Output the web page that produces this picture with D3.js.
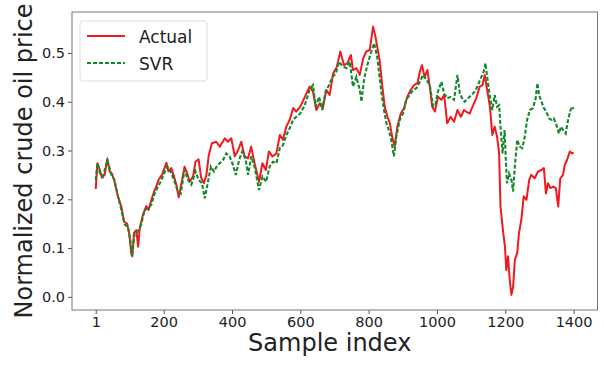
<!DOCTYPE html>
<html>
<head>
<meta charset="utf-8">
<script src="https://cdn.jsdelivr.net/npm/d3@7"></script>
<style>
body { margin: 0; background: #fff; }
text { font-family: "DejaVu Sans", sans-serif; fill: #222; }
</style>
</head>
<body>
<div id="chart"></div>
<script>
// data
const actualIdx = [1,6,13,19,27,35,42,49,56,66,76,84,93,99,105,108,113,120,125,130,139,149,156,164,172,178,185,195,208,214,222,230,237,244,252,261,269,276,286,293,302,310,318,325,332,341,354,364,379,388,398,408,418,427,437,447,456,466,479,489,499,508,518,530,540,549,559,569,579,588,600,613,627,637,647,657,666,676,686,696,707,717,728,738,748,754,764,774,784,793,803,813,820,825,832,839,847,855,862,869,876,884,894,904,913,923,933,943,950,956,964,972,979,986,994,1003,1013,1021,1030,1040,1050,1060,1070,1079,1089,1096,1106,1115,1125,1133,1140,1147,1155,1162,1169,1176,1182,1186,1192,1199,1203,1208,1213,1218,1223,1228,1235,1240,1247,1254,1262,1270,1276,1286,1296,1306,1313,1319,1325,1332,1340,1348,1355,1361,1369,1374,1381,1389,1396,1400]
const actualVal = [0.221,0.274,0.260,0.244,0.250,0.282,0.257,0.252,0.236,0.206,0.185,0.154,0.150,0.130,0.090,0.083,0.131,0.137,0.103,0.141,0.168,0.186,0.178,0.199,0.216,0.226,0.240,0.250,0.275,0.257,0.264,0.247,0.230,0.204,0.233,0.267,0.253,0.236,0.247,0.277,0.282,0.243,0.233,0.250,0.291,0.315,0.318,0.308,0.325,0.318,0.325,0.288,0.301,0.318,0.288,0.284,0.308,0.274,0.236,0.274,0.260,0.298,0.288,0.294,0.332,0.322,0.349,0.363,0.387,0.380,0.390,0.410,0.431,0.421,0.383,0.397,0.387,0.424,0.414,0.458,0.472,0.503,0.475,0.479,0.496,0.465,0.469,0.455,0.489,0.503,0.506,0.554,0.533,0.513,0.486,0.438,0.390,0.369,0.356,0.328,0.308,0.349,0.376,0.387,0.410,0.424,0.434,0.438,0.462,0.475,0.451,0.465,0.431,0.390,0.380,0.410,0.404,0.414,0.356,0.369,0.359,0.383,0.369,0.383,0.378,0.376,0.393,0.407,0.431,0.434,0.455,0.424,0.390,0.332,0.349,0.328,0.294,0.185,0.144,0.103,0.055,0.083,0.035,0.004,0.021,0.076,0.090,0.130,0.158,0.206,0.199,0.240,0.250,0.243,0.257,0.260,0.264,0.212,0.233,0.223,0.226,0.223,0.185,0.243,0.250,0.270,0.281,0.298,0.294,0.296]

const svrIdx = [1,6,13,22,35,47,56,66,76,86,95,102,107,115,125,134,144,154,164,172,181,191,201,211,220,230,240,250,261,271,281,293,302,312,320,328,338,347,357,364,374,383,393,403,411,421,430,440,447,456,466,479,489,500,510,520,530,540,549,559,569,579,588,600,613,627,637,645,655,664,674,684,694,704,713,725,735,745,754,764,774,779,787,796,806,816,825,832,839,845,852,859,866,874,881,891,901,910,920,930,940,950,959,969,979,989,995,1003,1013,1021,1030,1040,1050,1060,1067,1076,1081,1091,1101,1111,1120,1130,1137,1142,1147,1155,1162,1169,1176,1182,1186,1192,1198,1202,1205,1211,1218,1223,1228,1235,1242,1250,1257,1264,1272,1281,1289,1294,1299,1306,1313,1320,1328,1335,1342,1350,1357,1363,1369,1377,1384,1391,1396,1400]
const svrVal = [0.240,0.274,0.254,0.247,0.280,0.250,0.240,0.206,0.178,0.148,0.144,0.117,0.083,0.130,0.134,0.148,0.178,0.182,0.189,0.209,0.223,0.236,0.253,0.267,0.257,0.240,0.219,0.212,0.260,0.240,0.230,0.257,0.240,0.233,0.202,0.230,0.267,0.257,0.270,0.274,0.281,0.294,0.288,0.270,0.250,0.281,0.298,0.281,0.250,0.288,0.267,0.219,0.247,0.236,0.267,0.277,0.274,0.305,0.311,0.332,0.346,0.363,0.369,0.376,0.393,0.424,0.434,0.390,0.410,0.383,0.421,0.434,0.451,0.458,0.482,0.472,0.469,0.482,0.431,0.451,0.424,0.400,0.448,0.475,0.499,0.520,0.492,0.451,0.410,0.383,0.356,0.342,0.322,0.288,0.328,0.363,0.376,0.404,0.414,0.424,0.428,0.441,0.455,0.445,0.434,0.390,0.393,0.421,0.441,0.417,0.407,0.410,0.404,0.455,0.417,0.404,0.400,0.407,0.414,0.421,0.434,0.451,0.462,0.479,0.451,0.410,0.383,0.414,0.390,0.393,0.349,0.294,0.342,0.274,0.233,0.253,0.240,0.216,0.267,0.322,0.308,0.305,0.328,0.363,0.383,0.387,0.407,0.438,0.414,0.400,0.387,0.380,0.366,0.363,0.366,0.352,0.335,0.349,0.342,0.335,0.363,0.383,0.390,0.385]

const xTicks = [1, 200, 400, 600, 800, 1000, 1200, 1400]
const yTicks = [0.0, 0.1, 0.2, 0.3, 0.4, 0.5]
const seriesNames = ["Actual", "SVR"]

// const
const width = 604
const height = 368
const margin = {top: 12, bottom: 58, left: 72, right: 6.5}
const innerW = width - margin.left - margin.right
const innerH = height - margin.top - margin.bottom

// svg
const svg = d3.select("#chart")
    .append("svg")
    .attr("width", width)
    .attr("height", height)

const x = d3.scaleLinear().domain([-68.5, 1470]).range([0, innerW])
const y = d3.scaleLinear().domain([-0.027, 0.584]).range([innerH, 0])

let elementGroup = svg.append("g")
    .attr("transform", `translate(${margin.left},${margin.top})`)

// axes
let xAxis = d3.axisBottom(x).tickValues(xTicks).tickFormat(d3.format("d")).tickSize(4).tickPadding(3)
let yAxis = d3.axisLeft(y).tickValues(yTicks).tickFormat(d3.format(".1f")).tickSize(4).tickPadding(3)

let xAxisGroup = elementGroup.append("g")
    .attr("transform", `translate(0,${innerH})`)
    .call(xAxis)
let yAxisGroup = elementGroup.append("g").call(yAxis)

;[xAxisGroup, yAxisGroup].forEach(g => {
  g.select(".domain").remove()
  g.selectAll(".tick line").attr("stroke", "#555")
  g.selectAll(".tick text")
    .style("font-family", "DejaVu Sans")
    .style("font-size", "14.5px")
    .attr("fill", "#222")
})

// lines
const actual = actualIdx.map((d, i) => ({i: d, v: actualVal[i]}))
const svr = svrIdx.map((d, i) => ({i: d, v: svrVal[i]}))

const line = d3.line().x(d => x(d.i)).y(d => y(d.v))

elementGroup.append("path").datum(actual)
    .attr("d", line)
    .attr("fill", "none")
    .attr("stroke", "#f0191e")
    .attr("stroke-width", 2)
    .attr("stroke-linejoin", "round")

elementGroup.append("path").datum(svr)
    .attr("d", line)
    .attr("fill", "none")
    .attr("stroke", "#13882c")
    .attr("stroke-width", 2.1)
    .attr("stroke-dasharray", "4,2")

// frame
elementGroup.append("rect")
    .attr("width", innerW).attr("height", innerH)
    .attr("fill", "none")
    .attr("stroke", "#777")
    .attr("stroke-width", 1)

// legend
let legend = elementGroup.append("g").attr("transform", "translate(8,9)")
legend.append("rect")
    .attr("width", 127).attr("height", 60)
    .attr("rx", 3)
    .attr("fill", "#fff").attr("fill-opacity", 0.8)
    .attr("stroke", "#ddd")
const legendStyle = [
  {color: "#f0191e", dash: null},
  {color: "#13882c", dash: "4,2"}
]
seriesNames.forEach((name, k) => {
  const yy = 15 + k * 27
  legend.append("line")
      .attr("x1", 7).attr("x2", 45).attr("y1", yy).attr("y2", yy)
      .attr("stroke", legendStyle[k].color)
      .attr("stroke-width", 1.8)
      .attr("stroke-dasharray", legendStyle[k].dash)
  legend.append("text")
      .attr("x", 59).attr("y", yy + 6.5)
      .style("font-size", "17px")
      .text(name)
})

// axis titles
svg.append("text")
    .attr("x", margin.left + innerW / 2 - 5)
    .attr("y", 351)
    .attr("text-anchor", "middle")
    .style("font-size", "24px")
    .text("Sample index")

svg.append("text")
    .attr("transform", `translate(32,${margin.top + innerH / 2}) rotate(-90)`)
    .attr("text-anchor", "middle")
    .style("font-size", "24px")
    .text("Normalized crude oil price")
</script>
</body>
</html>
